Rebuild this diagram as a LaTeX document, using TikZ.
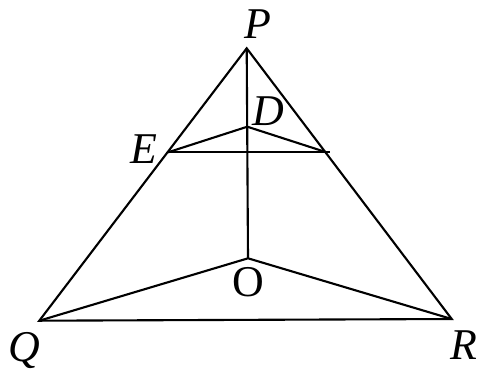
\documentclass[tikz,border=0pt]{standalone}
\usepackage{fontspec}
\setmainfont{Liberation Serif}
\begin{document}
\begin{tikzpicture}[x=0.02cm,y=-0.02cm,
  seg/.style={line width=1.2pt, line join=miter},
  lab/.style={font=\fontsize{25}{25}\selectfont\itshape, inner sep=0pt},
  ulab/.style={font=\fontsize{25}{25}\selectfont, inner sep=0pt}]
\useasboundingbox (0,0) rectangle (479,372);
\coordinate (P) at (246.7,48.3);
\coordinate (Q) at (39.3,320.7);
\coordinate (R) at (451.7,319);
\coordinate (O) at (248,258.3);
\coordinate (D) at (247.3,126.7);
\coordinate (E) at (168,152.3);
\coordinate (F) at (326.5,152.3);
\coordinate (Fx) at (329.5,152.3);
\draw[seg] (Q) -- (P) -- (R) -- cycle;
\draw[seg] (P) -- (O);
\draw[seg] (Q) -- (O) -- (R);
\draw[seg] (E) -- (D) -- (F);
\draw[seg] (E) -- (Fx);
\node[lab] (lP) at (258,24) {P};
\node[lab] (lD) at (268,111) {D};
\node[lab] (lE) at (144,149) {E};
\node[lab] (lQ) at (24,351) {Q};
\node[lab] (lR) at (464,345) {R};
\node[ulab] (lO) at (248,282) {O};
\end{tikzpicture}
\end{document}
